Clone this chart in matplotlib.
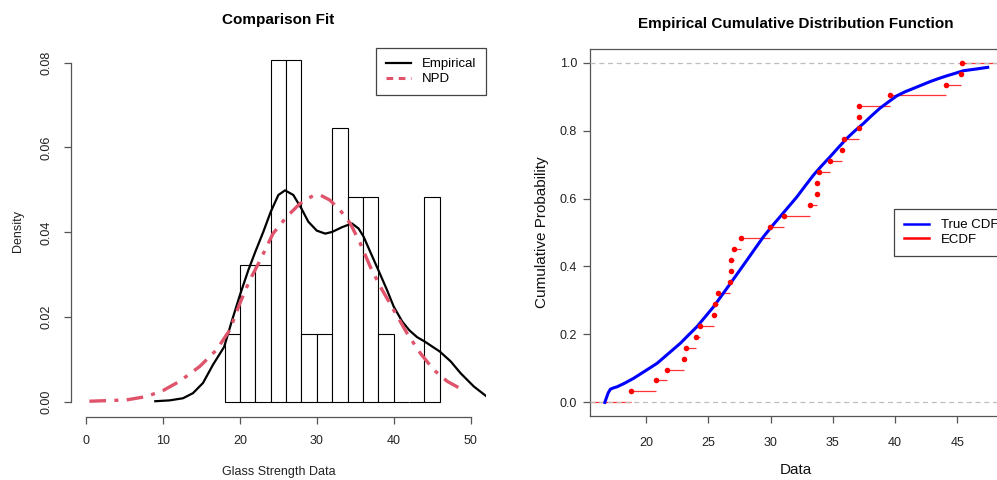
import matplotlib
matplotlib.use("Agg")
import matplotlib.pyplot as plt
import numpy as np
from matplotlib.lines import Line2D

plt.rcParams['font.family'] = ['Liberation Sans', 'DejaVu Sans']

# ---- data ----
glass_strength = [18.80, 20.83, 21.68, 23.05, 23.23, 24.04, 24.30, 25.45, 25.54, 25.80,
                  26.71, 26.79, 26.79, 27.06, 27.65, 29.92, 31.12, 33.21, 33.75, 33.75,
                  33.88, 34.79, 35.78, 35.92, 37.07, 37.07, 37.07, 39.58, 44.10, 45.33, 45.41]
hist_edges = [18, 20, 22, 24, 26, 28, 30, 32, 34, 36, 38, 40, 42, 44, 46]

emp_x = [9.0, 10.87, 12.6, 13.9, 15.2, 16.5, 17.95, 18.9, 20.0, 21.1, 22.0, 23.04, 24.0,
         25.0, 25.87, 26.95, 28.0, 28.9, 30.0, 31.1, 32.0, 33.26, 34.56, 35.43, 36.08,
         36.95, 38.0, 39.13, 40.0, 41.1, 42.04, 43.04, 44.0, 46.0, 47.4, 48.7, 50.4, 52.1]
emp_y = [0.0002, 0.0004, 0.0009, 0.0021, 0.0045, 0.0088, 0.0130, 0.0188, 0.0252, 0.0311,
         0.0354, 0.0401, 0.0448, 0.0488, 0.0499, 0.0488, 0.0456, 0.0425, 0.0404, 0.0397,
         0.0401, 0.0412, 0.0421, 0.0409, 0.0390, 0.0354, 0.0311, 0.0264, 0.0225, 0.0190,
         0.0169, 0.0153, 0.0143, 0.0119, 0.0096, 0.0068, 0.0037, 0.0013]

npd_x = [0.43, 5.22, 7.83, 9.99, 12.17, 14.78, 16.96, 18.69, 20.0, 21.3, 22.6, 24.3, 26.1,
         27.82, 29.56, 30.43, 31.7, 33.04, 34.35, 35.65, 36.95, 38.26, 40.0, 41.74, 43.47,
         45.2, 46.95, 49.34]
npd_y = [0.0002, 0.0005, 0.0013, 0.0027, 0.0049, 0.0084, 0.0123, 0.0170, 0.0233, 0.0288,
         0.0333, 0.0397, 0.0437, 0.0468, 0.0487, 0.0488, 0.0476, 0.0452, 0.0421, 0.0374,
         0.0319, 0.0272, 0.0217, 0.0162, 0.0115, 0.0076, 0.0049, 0.0025]

cdf_x = [16.68, 16.95, 17.13, 17.40, 17.67, 18.3, 19.00, 19.9, 20.88, 21.8, 22.75, 23.4,
         24.09, 24.75, 25.43, 26.1, 26.77, 27.45, 28.11, 28.8, 29.44, 30.1, 30.78, 31.45,
         32.12, 32.8, 33.45, 34.1, 34.79, 35.45, 36.13, 36.8, 37.47, 38.1, 38.80, 39.5,
         40.14, 40.8, 41.48, 42.15, 42.82, 43.5, 44.16, 44.8, 45.49, 46.5, 47.45]
cdf_y = [0.0, 0.028, 0.039, 0.043, 0.046, 0.057, 0.071, 0.092, 0.115, 0.144, 0.174, 0.198,
         0.223, 0.252, 0.282, 0.316, 0.350, 0.385, 0.419, 0.455, 0.488, 0.518, 0.547, 0.576,
         0.605, 0.638, 0.669, 0.696, 0.723, 0.750, 0.777, 0.800, 0.821, 0.843, 0.866, 0.885,
         0.902, 0.914, 0.924, 0.934, 0.944, 0.953, 0.961, 0.968, 0.976, 0.981, 0.986]

W, H = 997, 480
fig = plt.figure(figsize=(W / 100, H / 100), dpi=100)

axis_col = '#555555'
npd_col = '#DF536B'

# ---------------- Left panel ----------------
axL = fig.add_axes([70.7 / W, 1 - 416.5 / H, 415.3 / W, 370 / H])
axL.hist(glass_strength, bins=hist_edges, density=True, facecolor='white',
         edgecolor='black', linewidth=0.8)
axL.plot(emp_x, emp_y, color='black', lw=1.6, solid_joinstyle='round')
axL.plot(npd_x, npd_y, color=npd_col, lw=2.4, dashes=[5, 2.5, 1.2, 2.5],
         dash_joinstyle='round')
axL.set_xlim(-2.0, 52.0)
axL.set_ylim(-0.0034, 0.0838)
for s in ['top', 'right']:
    axL.spines[s].set_visible(False)
axL.spines['left'].set_bounds(0, 0.08)
axL.spines['bottom'].set_bounds(0, 50)
for s in ['left', 'bottom']:
    axL.spines[s].set_color(axis_col)
    axL.spines[s].set_linewidth(0.9)
axL.set_xticks([0, 10, 20, 30, 40, 50])
axL.set_yticks([0.00, 0.02, 0.04, 0.06, 0.08])
axL.set_yticklabels(['0.00', '0.02', '0.04', '0.06', '0.08'], rotation=90, va='center')
axL.tick_params(axis='both', direction='out', length=5, width=0.9, color=axis_col,
                labelsize=9, labelcolor='#222222', pad=8)
axL.set_title('Comparison Fit', fontsize=11, fontweight='bold', pad=16)
axL.set_xlabel('Glass Strength Data', fontsize=9, labelpad=14, color='#222222')
axL.set_ylabel('Density', fontsize=9, labelpad=12, color='#222222')
legL = axL.legend(handles=[Line2D([], [], color='black', lw=1.6),
                           Line2D([], [], color=npd_col, lw=2.2, dashes=[2.2, 1.8])],
                  labels=['Empirical', 'NPD'],
                  loc='upper right', bbox_to_anchor=(1.0, 0.995), borderaxespad=0,
                  fancybox=False, edgecolor='#444444', fontsize=9.5, handlelength=1.9,
                  framealpha=1, borderpad=0.75, labelspacing=0.2, handletextpad=0.8)
legL.get_frame().set_linewidth(0.9)

# ---------------- Right panel ----------------
axR = fig.add_axes([589.5 / W, 1 - 416 / H, 413.5 / W, 367 / H])
n = len(glass_strength)
xs = np.sort(np.array(glass_strength))
ys = np.arange(1, n + 1) / n
xl, xr = 15.45, 48.68
axR.set_xlim(xl, xr)
axR.set_ylim(-0.04, 1.04)
# ECDF step segments
seg_x0 = [xl] + list(xs)
seg_x1 = list(xs) + [xr]
seg_y = [0.0] + list(ys)
axR.hlines(seg_y, seg_x0, seg_x1, colors='red', lw=0.9, alpha=0.8, zorder=2)
axR.axhline(0, color='#BEBEBE', ls=(0, (4, 3)), lw=0.9, zorder=3)
axR.axhline(1, color='#BEBEBE', ls=(0, (4, 3)), lw=0.9, zorder=3)
axR.plot(cdf_x, cdf_y, color='#0000FF', lw=2.2, zorder=4, solid_joinstyle='round')
axR.plot(xs, ys, 'o', color='red', markersize=4, markeredgewidth=0, zorder=5)
axR.set_xticks([20, 25, 30, 35, 40, 45])
axR.set_yticks([0.0, 0.2, 0.4, 0.6, 0.8, 1.0])
axR.set_yticklabels(['0.0', '0.2', '0.4', '0.6', '0.8', '1.0'])
for s in axR.spines.values():
    s.set_color(axis_col)
    s.set_linewidth(0.9)
axR.tick_params(axis='both', direction='out', length=5, width=0.9, color=axis_col,
                labelsize=9, labelcolor='#222222')
axR.tick_params(axis='x', pad=10)
axR.tick_params(axis='y', pad=4)
axR.set_title('Empirical Cumulative Distribution Function', fontsize=11,
              fontweight='bold', pad=15)
axR.set_xlabel('Data', fontsize=11, labelpad=10, color='#111111')
axR.set_ylabel('Cumulative Probability', fontsize=11, labelpad=8, color='#111111')
legR = axR.legend(handles=[Line2D([], [], color='#0000FF', lw=1.8),
                           Line2D([], [], color='red', lw=1.8)],
                  labels=['True CDF', 'ECDF'],
                  loc='upper left', bbox_to_anchor=((894 - 589.5) / 413.5, (416 - 209) / 367),
                  borderaxespad=0, fancybox=False, edgecolor='#444444', fontsize=9.5,
                  handlelength=1.9, framealpha=1, borderpad=0.75, labelspacing=0.2,
                  handletextpad=0.9)
legR.get_frame().set_linewidth(0.9)

fig.savefig('out.png', dpi=100)
